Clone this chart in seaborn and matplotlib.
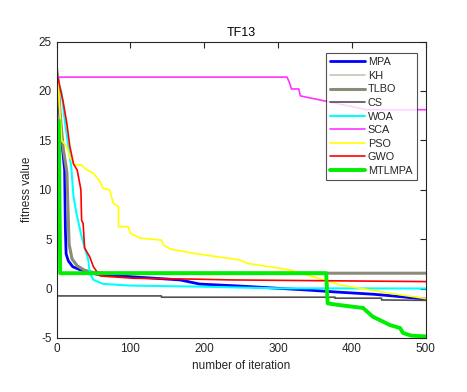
import numpy as np
import pandas as pd
import seaborn as sns
import matplotlib.pyplot as plt

# convergence curves (iteration, fitness)
mpa_it = [0, 3, 7, 11, 12, 13, 16, 22, 32, 54, 100, 167, 194, 248, 339, 384, 429, 465, 500]
mpa_val = [21.5, 19, 15, 12, 6, 3.5, 2.8, 2.2, 1.9, 1.45, 1.2, 0.87, 0.45, 0.25, -0.15, -0.38, -0.58, -0.82, -1.08]

kh_it = [0, 2, 5, 9, 14, 16, 20, 27, 36, 48, 70, 500]
kh_val = [22.3, 21.5, 18, 14.5, 12, 5, 3.2, 2.4, 1.9, 1.65, 1.55, 1.55]

tlbo_it = [0, 2, 5, 9, 14, 17, 21, 28, 38, 50, 70, 500]
tlbo_val = [22.3, 21.2, 17.5, 14.2, 11.8, 4.5, 3.0, 2.3, 1.85, 1.62, 1.55, 1.55]

cs_it = [0, 142, 142, 377, 377, 440, 440, 500]
cs_val = [-0.75, -0.75, -0.88, -0.88, -0.98, -0.98, -1.16, -1.2]

woa_it = [0, 2, 7, 11, 16, 20, 23, 27, 34, 38, 43, 45, 50, 63, 99, 194, 248, 300, 500]
woa_val = [21.2, 21.0, 19.8, 17.1, 14.4, 12.3, 9.3, 7.6, 5.25, 4.2, 2.9, 1.55, 0.87, 0.47, 0.3, 0.19, 0.1, 0.02, 0.0]

sca_it = [0, 312, 315, 318, 328, 330, 420, 500]
sca_val = [21.4, 21.4, 20.9, 20.2, 20.2, 19.5, 18.1, 18.1]

pso_it = [0, 2, 7, 14, 18, 25, 34, 41, 50, 59, 63, 72, 77, 84, 84, 97, 100, 113, 142, 145, 154,
          185, 217, 248, 258, 316, 384, 451, 500]
pso_val = [21.3, 21.1, 15.0, 14.35, 13.3, 12.5, 12.5, 12.0, 11.67, 10.8, 10.14, 9.97, 8.6, 8.3, 6.26,
           6.26, 5.6, 5.1, 4.9, 4.4, 4.0, 3.57, 3.22, 2.9, 2.55, 1.88, 0.36, -0.48, -1.02]

gwo_it = [0, 2, 9, 14, 18, 23, 28, 33, 34, 36, 38, 45, 50, 56, 59, 104, 194, 235, 500]
gwo_val = [21.4, 21.3, 18.9, 16.7, 14.4, 12.6, 12.0, 10.0, 6.9, 6.6, 4.1, 3.2, 2.2, 1.55, 1.27, 1.04, 0.94, 0.87, 0.7]

mtl_it = [0, 3, 5, 365, 367, 380, 415, 428, 442, 451, 465, 469, 480, 500]
mtl_val = [17.0, 17.0, 1.55, 1.55, -1.5, -1.65, -1.97, -2.85, -3.35, -3.69, -4.0, -4.5, -4.77, -4.85]

names = ["MPA", "KH", "TLBO", "CS", "WOA", "SCA", "PSO", "GWO", "MTLMPA"]
iters = [mpa_it, kh_it, tlbo_it, cs_it, woa_it, sca_it, pso_it, gwo_it, mtl_it]
vals = [mpa_val, kh_val, tlbo_val, cs_val, woa_val, sca_val, pso_val, gwo_val, mtl_val]
colors = ["#0000ff", "#c8c3b4", "#8c8a78", "#505050", "#00ffff", "#ff33ff", "#ffff00", "#ff0000", "#00ee00"]
widths = [2.0, 1.2, 2.2, 1.2, 1.5, 1.2, 1.2, 1.2, 2.8]

sns.set_style("white")
plt.rcParams['font.family'] = ['Liberation Sans', 'DejaVu Sans']
plt.rcParams['axes.unicode_minus'] = False

fig = plt.figure(figsize=(4.67, 3.92), dpi=100)
ax = fig.add_axes([0.121, 0.138, 0.791, 0.756])

for n, it, v, c, w in zip(names, iters, vals, colors, widths):
    df = pd.DataFrame({"iteration": it, "fitness": v})
    sns.lineplot(data=df, x="iteration", y="fitness", color=c, lw=w, label=n, ax=ax,
                 sort=False, estimator=None)

ax.set_xlim(0, 500)
ax.set_ylim(-5, 25)
ax.set_xticks([0, 100, 200, 300, 400, 500])
ax.set_yticks([-5, 0, 5, 10, 15, 20, 25])
ax.tick_params(direction="in", top=True, right=True, length=4, width=0.8,
               labelsize=8.5, colors="#262626")
for s in ax.spines.values():
    s.set_color("#262626")
    s.set_linewidth(0.8)
ax.set_xlabel("number of iteration", fontsize=8.5, color="#262626")
ax.set_ylabel("fitness value", fontsize=8.5, color="#262626")
ax.set_title("TF13", fontsize=9, color="black", pad=4)

leg = ax.legend(loc="upper right", bbox_to_anchor=(0.99, 0.98), fontsize=7.8, frameon=True,
                fancybox=False, edgecolor="#262626", handlelength=3.2, handletextpad=0.3,
                labelspacing=0.33, borderpad=0.4)
leg.get_frame().set_linewidth(0.8)

fig.savefig("out.png", dpi=100, facecolor="white")
